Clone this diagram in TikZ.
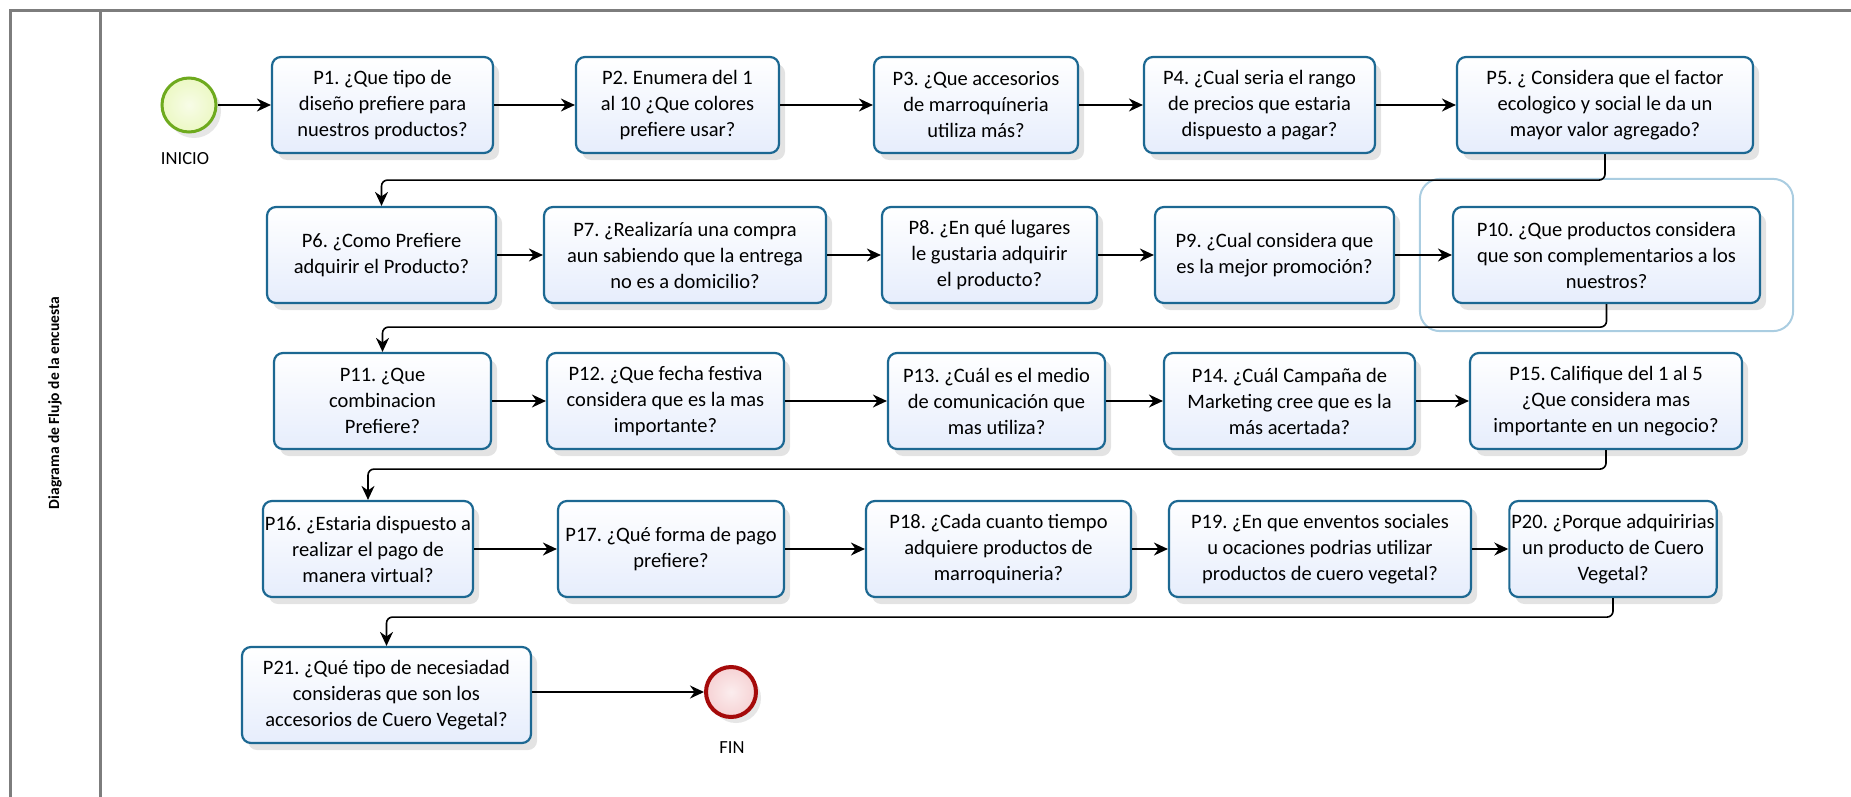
\documentclass[tikz,border=0pt]{standalone}
\usepackage{fontspec}
\setmainfont{Carlito}
\usepackage{tikz}
\usetikzlibrary{positioning,arrows.meta,shadows,fit}
\definecolor{qedge}{RGB}{28,104,146}
\definecolor{qfill}{RGB}{230,237,252}
\definecolor{startedge}{RGB}{110,170,30}
\definecolor{startfill}{RGB}{236,248,196}
\definecolor{endedge}{RGB}{165,10,10}
\definecolor{endfill}{RGB}{246,210,212}
\definecolor{poolline}{RGB}{125,125,125}
\definecolor{hlline}{RGB}{170,205,225}
\frenchspacing

\begin{document}
\begin{tikzpicture}[x=1pt,y=-1pt,>={Stealth[length=14pt,width=13pt]},
  q/.style={draw=qedge,line width=2.2pt,rounded corners=9pt,top color=white,bottom color=qfill,minimum height=96pt,inner sep=2pt,align=center,font=\fontsize{20.5}{26}\selectfont,drop shadow={opacity=0.22,shadow xshift=6pt,shadow yshift=-7pt}},
  flow/.style={->,line width=1.6pt},
  back/.style={->,line width=1.6pt,rounded corners=6pt},
  evlabel/.style={font=\fontsize{18.5}{21}\selectfont},
  pool/.style={draw=poolline,line width=3pt}]
\useasboundingbox (0,0) rectangle (1851,797);
% pool and lane
\draw[pool] (1851,11) -- (10,11) -- (10,797);
\draw[pool] (100,11) -- (100,797);
\node[rotate=90,font=\bfseries\fontsize{15.5}{18}\selectfont] (lane) at (55,403) {Diagrama de Flujo de la encuesta};

% events
\node[circle,draw=startedge,line width=3pt,inner color=startfill!40,outer color=startfill,minimum size=54pt,drop shadow={opacity=0.2,shadow xshift=5pt,shadow yshift=-6pt}] (ini) at (189,105) {};
\node[evlabel] (inilbl) at (185,159) {INICIO};
\node[circle,draw=endedge,line width=4pt,inner color=endfill!40,outer color=endfill,minimum size=50pt,drop shadow={opacity=0.2,shadow xshift=5pt,shadow yshift=-6pt}] (fin) at (731,692) {};
\node[evlabel] (finlbl) at (732,748) {FIN};

% row 1
\node[q,minimum width=221pt] (p1) at (382.5,105) {P1. ¿Que tipo de\\diseño prefiere para\\nuestros productos?};
\node[q,minimum width=203pt] (p2) at (677.5,105) {P2. Enumera del 1\\al 10 ¿Que colores\\prefiere usar?};
\node[q,minimum width=204pt] (p3) at (976,105) {P3. ¿Que accesorios\\de marroquíneria\\utiliza más?};
\node[q,minimum width=231pt] (p4) at (1259.5,105) {P4. ¿Cual seria el rango\\de precios que estaria\\dispuesto a pagar?};
\node[q,minimum width=296pt] (p5) at (1605,105) {P5. ¿ Considera que el factor\\ecologico y social le da un\\mayor valor agregado?};

% row 2
\node[q,minimum width=229pt] (p6) at (381.5,255) {P6. ¿Como Prefiere\\adquirir el Producto?};
\node[q,minimum width=282pt] (p7) at (685,255) {P7. ¿Realizaría una compra\\aun sabiendo que la entrega\\no es a domicilio?};
\node[q,minimum width=215pt] (p8) at (989.5,255) {P8. ¿En qué lugares\\le gustaria adquirir\\el producto?};
\node[q,minimum width=239pt] (p9) at (1274.5,255) {P9. ¿Cual considera que\\es la mejor promoción?};
\node[q,minimum width=307pt] (p10) at (1606.5,255) {P10. ¿Que productos considera\\que son complementarios a los\\nuestros?};
\node[draw=hlline,line width=2pt,rounded corners=20pt,fit=(p10),inner xsep=32pt,inner ysep=27pt] (hl) {};

% row 3
\node[q,minimum width=217pt] (p11) at (382.5,401) {P11. ¿Que\\combinacion\\Prefiere?};
\node[q,minimum width=237pt] (p12) at (665.5,401) {P12. ¿Que fecha festiva\\considera que es  la mas\\importante?};
\node[q,minimum width=217pt] (p13) at (996.5,401) {P13. ¿Cuál es el medio\\de comunicación que\\mas utiliza?};
\node[q,minimum width=251pt] (p14) at (1289.5,401) {P14. ¿Cuál Campaña de\\Marketing cree que es la\\más acertada?};
\node[q,minimum width=272pt] (p15) at (1606,401) {P15. Califique del 1 al 5\\¿Que considera mas\\importante en un negocio?};

% row 4
\node[q,minimum width=208pt] (p16) at (368,549) {P16. ¿Estaria dispuesto a\\realizar el pago de\\manera virtual?};
\node[q,minimum width=226pt] (p17) at (671,549) {P17. ¿Qué forma de pago\\prefiere?};
\node[q,minimum width=265pt] (p18) at (998.5,549) {P18. ¿Cada cuanto tiempo\\adquiere productos de\\marroquineria?};
\node[q,minimum width=302pt] (p19) at (1320,549) {P19. ¿En que enventos sociales\\u ocaciones podrias utilizar\\productos de cuero vegetal?};
\node[q,minimum width=206pt] (p20) at (1613,549) {P20. ¿Porque adquiririas\\un producto de Cuero\\Vegetal?};

% row 5
\node[q,minimum width=289pt] (p21) at (386.5,695) {P21. ¿Qué tipo de necesiadad\\consideras que son los\\accesorios de Cuero Vegetal?};

% sequence flows
\draw[flow] (ini) -- (p1);
\draw[flow] (p1) -- (p2);
\draw[flow] (p2) -- (p3);
\draw[flow] (p3) -- (p4);
\draw[flow] (p4) -- (p5);
\draw[back] (p5.south) -- ++(0,26) -| (p6.north);
\draw[flow] (p6) -- (p7);
\draw[flow] (p7) -- (p8);
\draw[flow] (p8) -- (p9);
\draw[flow] (p9) -- (p10);
\draw[back] (p10.south) -- ++(0,23) -| (p11.north);
\draw[flow] (p11) -- (p12);
\draw[flow] (p12) -- (p13);
\draw[flow] (p13) -- (p14);
\draw[flow] (p14) -- (p15);
\draw[back] (p15.south) -- ++(0,19) -| (p16.north);
\draw[flow] (p16) -- (p17);
\draw[flow] (p17) -- (p18);
\draw[flow] (p18) -- (p19);
\draw[flow] (p19) -- (p20);
\draw[back] (p20.south) -- ++(0,19) -| (p21.north);
\draw[flow] (p21.east |- fin) -- (fin);
\end{tikzpicture}
\end{document}
